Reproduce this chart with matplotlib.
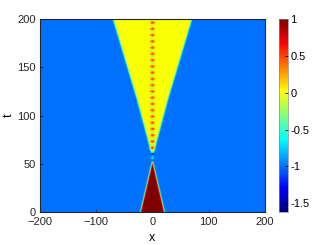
import numpy as np
import matplotlib
matplotlib.use("Agg")
import matplotlib.pyplot as plt
from matplotlib.colors import LinearSegmentedColormap

# --- values ---
level_background = -1.0
level_fan = 0.0
level_core = 1.0
dot_peak = 0.6
dot_gap = -0.35
vmin, vmax = -1.62, 1.0

# fan (yellow) edge: half-width vs t
fan_t = [57, 116, 200]
fan_hw = [0, 27, 70]
# core (dark red) edge: half-width vs t
core_t = [0, 52.5]
core_hw = [21, 0]
# dots on the x=0 line
dot_t = [66.5, 73, 79.5, 86, 92.5, 99, 105.5, 112, 118.5, 125, 131.5, 138,
         144.5, 151, 157.5, 164, 170.5, 177, 183.5, 190, 196.5]
# small dots near the crossing point
small_t = [56.0, 60.0]
small_v = [-0.6, -1.5]

cb_ticks = [-1.5, -1, -0.5, 0, 0.5, 1]
cb_labels = ["-1.5", "-1", "-0.5", "0", "0.5", "1"]
x_ticks = [-200, -100, 0, 100, 200]
y_ticks = [0, 50, 100, 150, 200]

# MATLAB-style jet
jet_m = LinearSegmentedColormap('jet_m', {
    'red':   [(0, 0, 0), (3/8, 0, 0), (5/8, 1, 1), (7/8, 1, 1), (1, 0.5, 0.5)],
    'green': [(0, 0, 0), (1/8, 0, 0), (3/8, 1, 1), (5/8, 1, 1), (7/8, 0, 0), (1, 0, 0)],
    'blue':  [(0, 0.5, 0.5), (1/8, 1, 1), (3/8, 1, 1), (5/8, 0, 0), (1, 0, 0)],
}, N=256)

# --- build the field ---
x = np.linspace(-200, 200, 801)
t = np.linspace(0, 200, 401)
X, T = np.meshgrid(x, t)
w = 1.2
U = np.full_like(X, level_background)

hw_fan = np.interp(t, fan_t, fan_hw, left=0)[:, None]
fan_mask = 0.5 * (1 + np.tanh((hw_fan - np.abs(X)) / w)) * (T > fan_t[0])
U = U + (level_fan - level_background) * fan_mask

hw_core = np.interp(t, core_t, core_hw, right=0)[:, None]
core_mask = 0.5 * (1 + np.tanh((hw_core - np.abs(X)) / w)) * (T < core_t[-1])
U = U + (level_core - level_background) * core_mask

line = np.exp(-(X / 3.4) ** 2)
bumps = np.zeros_like(T)
for td in dot_t:
    bumps += np.exp(-((T - td) / 2.0) ** 2)
bumps = np.clip(bumps, 0, 1)
centre = dot_gap + (dot_peak - dot_gap) * bumps
on_line = (T > dot_t[0] - 3.5)
U = np.where(on_line, U * (1 - line) + centre * line, U)
for ts, vs in zip(small_t, small_v):
    g = np.exp(-(X / 2.4) ** 2 - ((T - ts) / 1.5) ** 2)
    U = U * (1 - g) + vs * g

plt.rcParams['font.family'] = ['Liberation Sans', 'DejaVu Sans']
fig = plt.figure(figsize=(3.27, 2.45), dpi=100)
ax = fig.add_axes([0.122, 0.135, 0.688, 0.787])
im = ax.imshow(U, extent=[-200, 200, 0, 200], origin='lower', aspect='auto',
               cmap=jet_m, vmin=vmin, vmax=vmax, interpolation='bilinear')
ax.set_xticks(x_ticks)
ax.set_yticks(y_ticks)
ax.tick_params(labelsize=8, direction='in', length=2, width=0.6, colors='#262626')
ax.tick_params(axis='x', pad=4)
ax.tick_params(axis='y', pad=3)
for s in ax.spines.values():
    s.set_color('#262626')
    s.set_linewidth(0.8)
ax.set_xlabel('x', fontsize=9, labelpad=3)
ax.set_ylabel('t', fontsize=9, labelpad=2)

cax = fig.add_axes([0.853, 0.135, 0.027, 0.787])
cb = fig.colorbar(im, cax=cax, ticks=cb_ticks)
cb.ax.set_yticklabels(cb_labels)
cb.ax.tick_params(labelsize=8, direction='in', length=2, width=0.6, pad=2)
cb.outline.set_linewidth(0.5)
cb.outline.set_edgecolor('#888888')

fig.savefig('out.png', dpi=100)
